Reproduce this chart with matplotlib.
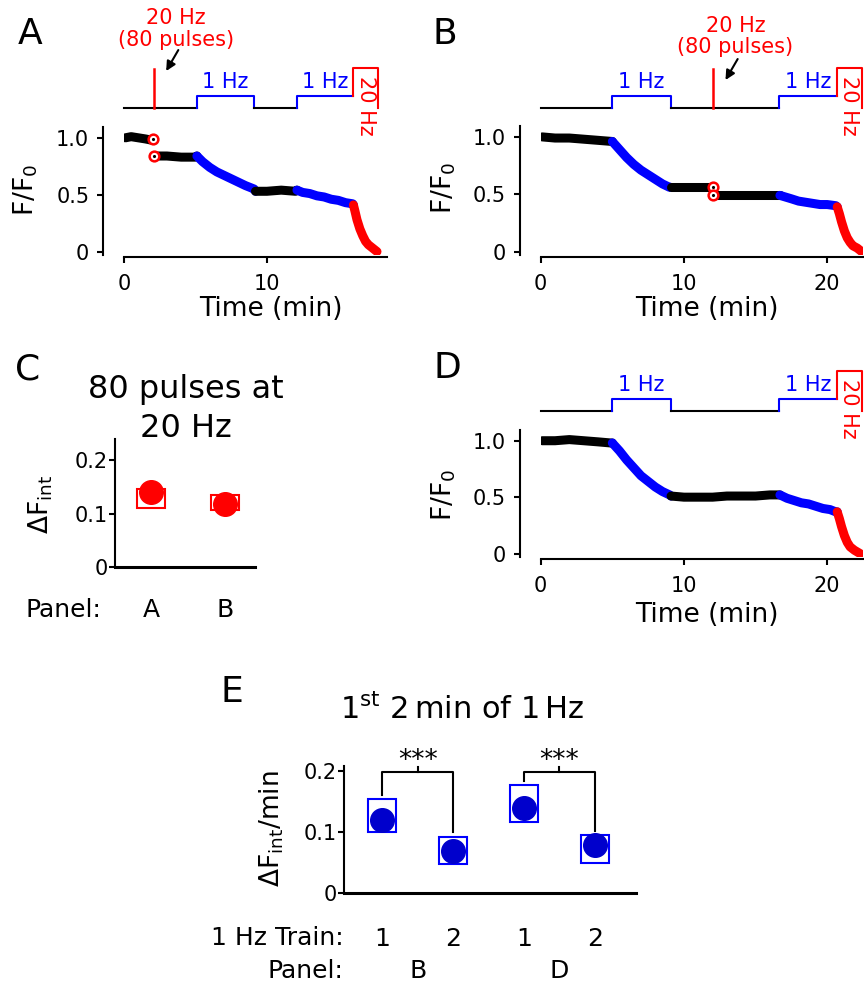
import matplotlib
matplotlib.use("Agg")
import matplotlib.pyplot as plt
from matplotlib.transforms import blended_transform_factory

# F/F0 traces: time (min), value, colour code per point
# k = no stimulation, b = 1 Hz, r = 20 Hz, p = 80 pulses at 20 Hz (single points)
a_t = [0.1, 0.5, 1.0, 1.5, 1.9, 2.05, 2.1, 2.3, 3.0, 4.0, 5.0,
       5.1, 5.5, 6.0, 6.5, 7.0, 7.5, 8.0, 8.5, 9.1,
       9.2, 10.0, 11.0, 12.0,
       12.1, 12.5, 13.0, 13.5, 14.0, 14.5, 15.0, 15.5, 16.0,
       16.05, 16.15, 16.3, 16.5, 16.7, 16.9, 17.1, 17.4, 17.7]
a_f = [1.00, 1.01, 1.00, 0.99, 0.98, 0.99, 0.84, 0.84, 0.84, 0.83, 0.83,
       0.84, 0.79, 0.74, 0.70, 0.67, 0.64, 0.61, 0.58, 0.55,
       0.53, 0.53, 0.54, 0.53,
       0.54, 0.52, 0.51, 0.49, 0.48, 0.46, 0.45, 0.43, 0.42,
       0.41, 0.36, 0.28, 0.20, 0.14, 0.09, 0.06, 0.03, 0.00]
a_c = "kkkkk" + "pp" + "kkkk" + "b" * 9 + "kkkk" + "b" * 9 + "r" * 9

b_t = [0.1, 1.0, 2.0, 3.0, 4.0,
       5.0, 5.5, 6.0, 6.5, 7.0, 7.5, 8.0, 8.5, 9.0,
       9.1, 10.0, 11.0, 12.0, 12.05, 12.05,
       12.2, 13.0, 14.0, 15.0, 16.0, 16.6,
       16.7, 17.5, 18.0, 18.5, 19.0, 19.5, 20.0, 20.6,
       20.7, 20.85, 21.0, 21.2, 21.4, 21.6, 21.8, 22.1, 22.4]
b_f = [1.00, 0.99, 0.99, 0.98, 0.97,
       0.96, 0.89, 0.82, 0.76, 0.71, 0.67, 0.63, 0.59, 0.56,
       0.56, 0.56, 0.56, 0.56, 0.565, 0.49,
       0.49, 0.49, 0.49, 0.49, 0.49, 0.49,
       0.49, 0.46, 0.44, 0.43, 0.42, 0.41, 0.41, 0.40,
       0.39, 0.33, 0.26, 0.18, 0.12, 0.08, 0.05, 0.03, 0.00]
b_c = "kkkkk" + "b" * 9 + "kkkk" + "pp" + "k" * 6 + "b" * 8 + "r" * 9

d_t = [0.1, 1.0, 2.0, 3.0, 4.0, 4.9,
       5.0, 5.5, 6.0, 6.5, 7.0, 7.5, 8.0, 8.5, 9.0,
       9.1, 10.0, 11.0, 12.0, 13.0, 14.0, 15.0, 16.0, 16.6,
       16.7, 17.2, 17.7, 18.2, 18.7, 19.2, 19.7, 20.2, 20.6,
       20.7, 20.85, 21.0, 21.2, 21.4, 21.6, 21.9, 22.3]
d_f = [1.00, 1.00, 1.01, 1.00, 0.99, 0.98,
       0.98, 0.91, 0.83, 0.76, 0.69, 0.64, 0.59, 0.55, 0.52,
       0.51, 0.50, 0.50, 0.50, 0.51, 0.51, 0.51, 0.52, 0.52,
       0.52, 0.49, 0.47, 0.45, 0.44, 0.42, 0.40, 0.39, 0.37,
       0.37, 0.31, 0.24, 0.16, 0.10, 0.06, 0.03, 0.00]
d_c = "k" * 6 + "b" * 9 + "k" * 9 + "b" * 9 + "r" * 8

# stimulation protocols (min)
a_trains = [(5.1, 9.1), (12.1, 16.0)]
a_pulse = 2.1
a_end = 17.8
b_trains = [(5.0, 9.07), (16.66, 20.68)]
b_pulse = 12.05
b_end = 22.4
d_trains = [(5.0, 9.07), (16.66, 20.68)]
d_end = 22.4

# panel C
c_labels = ["A", "B"]
c_value = [0.141, 0.118]
c_low = [0.110, 0.107]
c_high = [0.147, 0.136]

# panel E
e_train = ["1", "2", "1", "2"]
e_panel = ["B", "D"]
e_value = [0.121, 0.069, 0.140, 0.080]
e_low = [0.101, 0.048, 0.117, 0.049]
e_high = [0.155, 0.093, 0.177, 0.095]

W, H = 864, 985
fig = plt.figure(figsize=(W / 100, H / 100), dpi=100)
COL = {"k": "black", "b": "blue", "r": "red"}


def box(l, t, r, b):
    return [l / W, 1 - b / H, (r - l) / W, (b - t) / H]


def ftext(x, y, s, **kw):
    fig.text(x / W, 1 - y / H, s, **kw)


def draw_trace(ax, t, f, codes):
    runs = []
    start = 0
    for i in range(1, len(codes) + 1):
        if i == len(codes) or codes[i] != codes[start]:
            runs.append((start, i))
            start = i
    for s, e in runs:
        if codes[s] == "p":
            ax.plot(t[s:e], f[s:e], "o", ms=7, mfc="white", mec="red", mew=1.8, zorder=4)
            ax.plot(t[s:e], f[s:e], ".", color="k", ms=2.5, zorder=5)
            continue
        stop = e + 1 if e < len(codes) and codes[e] != "p" else e
        ax.plot(t[s:stop], f[s:stop], color=COL[codes[s]], lw=6.5,
                solid_capstyle="round", solid_joinstyle="round", zorder=3)


def draw_stim(ax, trains, end, pulse=None, lab_y=5.0, arrow_y=(4.1, 2.35)):
    kw = dict(lw=1.5, clip_on=False)
    prev = 0
    for i, (s, e) in enumerate(trains):
        ax.plot([prev, s], [0, 0], color="k", **kw)
        if i < len(trains) - 1:
            ax.plot([s, s, e, e], [0, 1, 1, 0], color="blue", **kw)
        else:
            ax.plot([s, s, e], [0, 1, 1], color="blue", **kw)
            ax.plot([e, e, end, end], [1, 3.33, 3.33, 0], color="red", **kw)
            ax.text((e + end) / 2, 0.15, "20 Hz", color="red", fontsize=15,
                    rotation=270, ha="center", va="center")
        ax.text((s + e) / 2, 1.64, "1 Hz", color="blue", fontsize=15,
                ha="center", va="baseline")
        prev = e
    if pulse is not None:
        ax.plot([pulse, pulse], [0, 3.25], color="red", lw=1.8, clip_on=False)
        # lab_y is the baseline of the lower line
        ax.text(pulse + 1.55, lab_y, "20 Hz\n(80 pulses)", color="red", fontsize=15,
                ha="center", va="baseline", linespacing=1.1)
        ax.annotate("", xy=(pulse + 0.85, arrow_y[1]), xytext=(pulse + 1.7, arrow_y[0]),
                    arrowprops=dict(arrowstyle="-|>", color="k", lw=1.5,
                                    mutation_scale=14, shrinkA=0, shrinkB=0))
    ax.set_ylim(-0.333, 4.0)
    ax.axis("off")


def style_trace_axes(ax, xmax, xticks):
    ax.set_xlim(0, xmax)
    ax.set_ylim(-0.03, 1.095)
    ax.set_yticks([0, 0.5, 1.0])
    ax.set_yticklabels(["0", "0.5", "1.0"])
    ax.set_xticks(xticks)
    for side in ["top", "right"]:
        ax.spines[side].set_visible(False)
    ax.spines["left"].set_position(("outward", 15))
    ax.spines["bottom"].set_position(("outward", 1.5))
    for side in ["left", "bottom"]:
        ax.spines[side].set_linewidth(1.5)
    ax.tick_params(labelsize=15, width=1.5, length=4)
    ax.tick_params(axis="x", pad=8.5)
    ax.tick_params(axis="y", pad=6)


# ---- A
axA = fig.add_axes(box(124, 127, 387, 255))
draw_trace(axA, a_t, a_f, a_c)
style_trace_axes(axA, 18.4, [0, 10])
sA = fig.add_axes(box(124, 60, 387, 112), sharex=axA)
draw_stim(sA, a_trains, a_end, a_pulse, lab_y=5.19, arrow_y=(4.83, 3.08))
ftext(26, 190, "F/F$_0$", fontsize=19, rotation=90, ha="center", va="center")
ftext(271, 309, "Time (min)", fontsize=19, ha="center", va="center")

# ---- B
axB = fig.add_axes(box(540.7, 126, 863, 255))
draw_trace(axB, b_t, b_f, b_c)
style_trace_axes(axB, 22.5, [0, 10, 20])
sB = fig.add_axes(box(540.7, 60, 863, 112), sharex=axB)
draw_stim(sB, b_trains, b_end, b_pulse, lab_y=4.56, arrow_y=(4.08, 2.33))
ftext(443.5, 188, "F/F$_0$", fontsize=19, rotation=90, ha="center", va="center")
ftext(706.5, 309, "Time (min)", fontsize=19, ha="center", va="center")

# ---- D
axD = fig.add_axes(box(540.7, 430, 863, 557))
draw_trace(axD, d_t, d_f, d_c)
style_trace_axes(axD, 22.5, [0, 10, 20])
sD = fig.add_axes(box(540.7, 363, 863, 415), sharex=axD)
draw_stim(sD, d_trains, d_end)
ftext(443.5, 495, "F/F$_0$", fontsize=19, rotation=90, ha="center", va="center")
ftext(706.5, 615, "Time (min)", fontsize=19, ha="center", va="center")

# ---- C
axC = fig.add_axes(box(115, 439, 255, 567.3))
xc = list(range(len(c_labels)))
axC.bar(xc, [h - l for h, l in zip(c_high, c_low)], bottom=c_low, width=0.38,
        fill=False, edgecolor="red", lw=1.5)
axC.plot(xc, c_value, "o", color="red", ms=17, zorder=3)
axC.set_xlim(-0.49, 1.41)
axC.set_ylim(0, 0.24)
axC.set_yticks([0, 0.1, 0.2])
axC.set_yticklabels(["0", "0.1", "0.2"])
axC.set_xticks(xc)
axC.set_xticklabels(c_labels)
for side in ["top", "right"]:
    axC.spines[side].set_visible(False)
axC.spines["left"].set_linewidth(1.5)
axC.spines["bottom"].set_linewidth(2.2)
axC.tick_params(axis="y", labelsize=15, width=1.5, length=4, pad=1)
axC.tick_params(axis="x", labelsize=18, length=0, pad=22)
ftext(101.7, 616.7, "Panel:", fontsize=18, ha="right", va="baseline")
ftext(185.5, 398.3, "80 pulses at", fontsize=23, ha="center", va="baseline")
ftext(185.5, 437.3, "20 Hz", fontsize=23, ha="center", va="baseline")
ftext(41, 504, "ΔF$_{\\rm int}$", fontsize=19, rotation=90, ha="center", va="center")

# ---- E
axE = fig.add_axes(box(344, 766, 636, 893.3))
xe = list(range(len(e_train)))
axE.bar(xe, [h - l for h, l in zip(e_high, e_low)], bottom=e_low, width=0.4,
        fill=False, edgecolor="blue", lw=1.5)
axE.plot(xe, e_value, "o", color="#0000cc", ms=17, zorder=3)
axE.set_xlim(-0.54, 3.58)
axE.set_ylim(0, 0.209)
axE.set_yticks([0, 0.1, 0.2])
axE.set_yticklabels(["0", "0.1", "0.2"])
axE.set_xticks(xe)
axE.set_xticklabels(e_train)
for side in ["top", "right"]:
    axE.spines[side].set_visible(False)
axE.spines["left"].set_linewidth(1.5)
axE.spines["bottom"].set_linewidth(2.2)
axE.tick_params(axis="y", labelsize=15, width=1.5, length=4, pad=1)
axE.tick_params(axis="x", labelsize=18, length=0, pad=24)

# significance brackets
top = 0.199
for i in range(0, len(e_train), 2):
    y1 = e_high[i] + 0.007
    y2 = e_high[i + 1] + 0.007
    axE.plot([i, i, i + 1, i + 1], [y1, top, top, y2], color="k", lw=1.5, clip_on=False)
    axE.plot([i + 0.5, i + 0.5], [top, top + 0.009], color="k", lw=1.5, clip_on=False)
    axE.text(i + 0.5, top + 0.007, "***", fontsize=19, ha="center", va="baseline")

trE = blended_transform_factory(axE.transData, fig.transFigure)
for j, p in enumerate(e_panel):
    axE.text(2 * j + 0.5, 1 - 978.3 / H, p, fontsize=18, ha="center", va="baseline",
             transform=trE)
ftext(343.3, 945, "1 Hz Train:", fontsize=18, ha="right", va="baseline")
ftext(343.3, 978.3, "Panel:", fontsize=18, ha="right", va="baseline")
ftext(461.7, 719.3, "1$^{\\rm st}$ 2$\\,$min of 1$\\,$Hz", fontsize=22, ha="center",
      va="baseline")
ftext(272, 828.5, "ΔF$_{\\rm int}$/min", fontsize=19, rotation=90, ha="center",
      va="center")

# panel letters
for x, y, s in [(30, 34, "A"), (445, 34, "B"), (28, 369, "C"), (447, 368, "D"),
                (232, 692, "E")]:
    ftext(x, y, s, fontsize=26, ha="center", va="center")

fig.savefig("out.png", dpi=100)
